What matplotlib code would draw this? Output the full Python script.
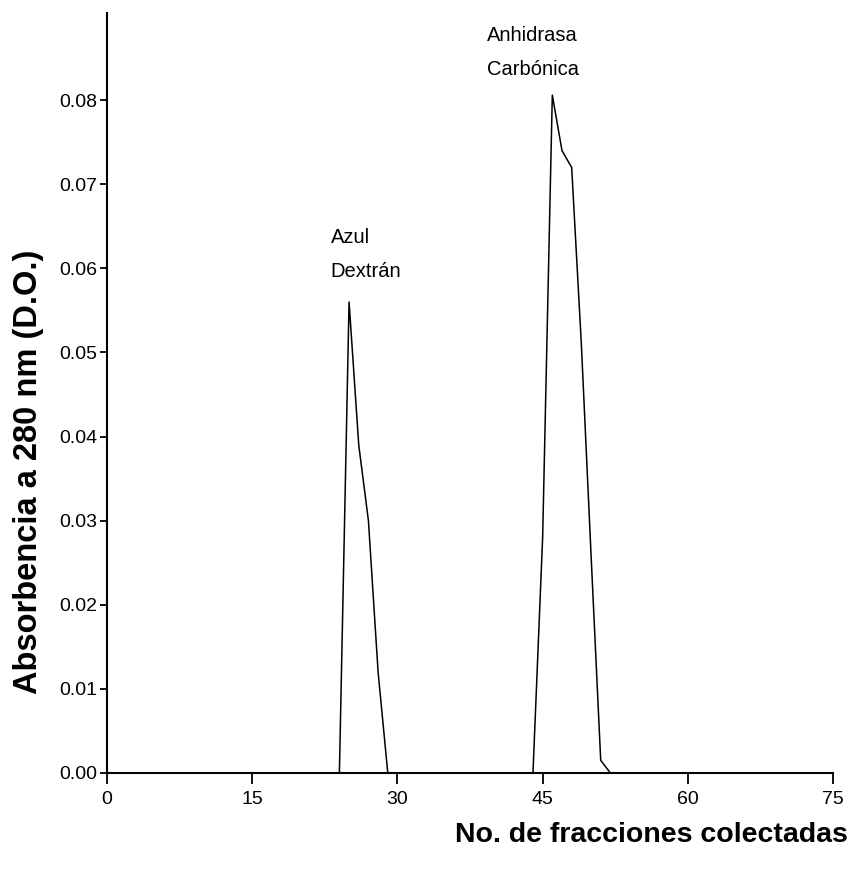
import matplotlib
matplotlib.use("Agg")
import matplotlib.pyplot as plt

# Data
fractions = [0, 24, 25, 26, 27, 28, 29, 44, 45, 46, 47, 48, 49, 50, 51, 52, 75]
absorbance = [0.0, 0.0, 0.056, 0.039, 0.030, 0.012, 0.0,
              0.0, 0.028, 0.0806, 0.074, 0.072, 0.051, 0.026, 0.0015, 0.0, 0.0]

x_ticks = [0, 15, 30, 45, 60, 75]
y_ticks = [0.00, 0.01, 0.02, 0.03, 0.04, 0.05, 0.06, 0.07, 0.08]

annotations = [("Azul\nDextrán", 23.1, 0.0585), ("Anhidrasa\nCarbónica", 39.2, 0.0825)]

font = "Liberation Sans"

fig = plt.figure(figsize=(8.5, 8.82), dpi=100)
ax = fig.add_axes([0.126, 0.1236, 0.854, 0.862])

ax.plot(fractions, absorbance, color="black", linewidth=1.1)

ax.set_xlim(0, 75)
ax.set_ylim(0, 0.0904)
ax.set_xticks(x_ticks)
ax.set_yticks(y_ticks)
ax.set_xticklabels([str(t) for t in x_ticks], fontfamily=font, fontsize=14)
ax.set_yticklabels([f"{t:.2f}" for t in y_ticks], fontfamily=font, fontsize=14)

for s in ["top", "right"]:
    ax.spines[s].set_visible(False)
for s in ["left", "bottom"]:
    ax.spines[s].set_linewidth(1.5)

ax.tick_params(axis="x", direction="out", length=8, width=1.3, pad=5)
ax.tick_params(axis="y", direction="out", length=5, width=1.3, pad=2)

ax.set_ylabel("Absorbencia a 280 nm (D.O.)", fontfamily=font,
              fontsize=23.5, fontweight="bold")
ax.yaxis.set_label_coords(-0.087, 0.396)
fig.text(0.998, 0.053, "No. de fracciones colectadas", ha="right", va="center",
         fontfamily=font, fontsize=20.5, fontweight="bold")

for txt, xx, yy in annotations:
    ax.text(xx, yy, txt, ha="left", va="bottom", multialignment="left",
            fontfamily=font, fontsize=14.5, linespacing=2.0)

fig.savefig("out.png", dpi=100)
